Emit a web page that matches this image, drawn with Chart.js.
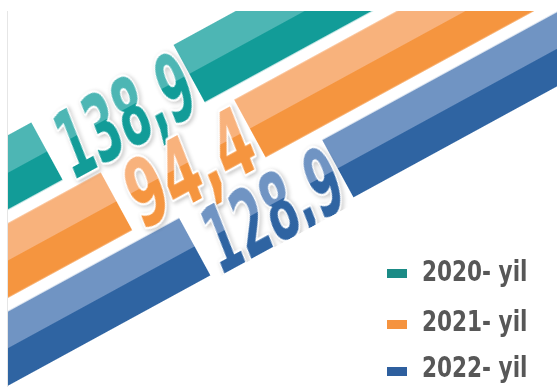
<!DOCTYPE html>
<html>
<head>
<meta charset="utf-8">
<script src="https://cdn.jsdelivr.net/npm/chart.js@4.4.1/dist/chart.umd.min.js"></script>
<style>
  html, body { margin: 0; padding: 0; background: #fff; }
  body { width: 557px; height: 387px; position: relative; overflow: hidden; }
  #frame {
    position: absolute; left: 7px; top: 11px; width: 550px; height: 376px;
    overflow: hidden; border-left: 1px solid #e6e6e6; box-sizing: border-box;
  }
  #tilt {
    position: absolute; left: -7px; top: -11px; width: 700px; height: 232px;
    transform-origin: 0 0;
    transform: rotate(-28.6deg) translate(-200px, 116px);
  }
  .key { position: absolute; left: 387px; width: 20px; height: 9px; }
  .keytext {
    position: absolute; left: 422px; line-height: 25px;
    font: bold 25px "DejaVu Sans Condensed", "DejaVu Sans", sans-serif;
    font-stretch: condensed; color: #575757; white-space: nowrap;
    transform-origin: 0 50%; transform: scale(0.96, 1.1);
  }
</style>
</head>
<body>
<div id="frame">
  <div id="tilt"><canvas id="bands" width="700" height="232"></canvas></div>
</div>
<div id="legend"></div>
<script>
const labels = ['2020- yil', '2021- yil', '2022- yil'];
const values = [138.9, 94.4, 128.9];
const lightColors = ['#4db6b4', '#f8b27c', '#7094c3'];
const darkColors = ['#129c98', '#f5953f', '#2f64a2'];
const legendColors = ['#1b8b86', '#f5933f', '#2e5f9e'];

// upper half light, lower half dark, split on each band's centre line
function bandFill(c) {
  const chart = c.chart;
  const i = c.dataIndex ?? 0;
  const area = chart.chartArea;
  if (!area || !chart.scales.y) return darkColors[i];
  const mid = chart.scales.y.getPixelForValue(i);
  const f = (mid - area.top) / (area.bottom - area.top);
  const g = chart.ctx.createLinearGradient(0, area.top, 0, area.bottom);
  g.addColorStop(0, lightColors[i]);
  g.addColorStop(f, lightColors[i]);
  g.addColorStop(f, darkColors[i]);
  g.addColorStop(1, darkColors[i]);
  return g;
}

const bandLabels = {
  id: 'bandLabels',
  afterDatasetsDraw(chart, args, opts) {
    const ctx = chart.ctx;
    const area = chart.chartArea;
    const bars = chart.getDatasetMeta(0).data;

    // cut the white gap out of each band first
    bars.forEach((bar, i) => {
      const [g0, g1] = opts.gaps[i];
      ctx.fillStyle = '#fff';
      ctx.fillRect(area.left + g0, bar.y - bar.height / 2 - 1, g1 - g0, bar.height + 2);
    });

    bars.forEach((bar, i) => {
      const [g0, g1] = opts.gaps[i];
      const text = values[i].toFixed(1).replace('.', ',');
      ctx.save();
      ctx.font = 'bold ' + opts.size + 'px "Liberation Sans Narrow", "DejaVu Sans Condensed", sans-serif';
      const w = ctx.measureText(text).width;
      const target = (g1 - g0) - opts.padLeft - opts.padRight;
      const cap = opts.size * 0.72;
      const cx = area.left + g0 + opts.padLeft + target / 2;
      ctx.translate(cx, bar.y + opts.shiftY);
      ctx.transform(1, 0, -opts.skew, 1, 0, 0);
      ctx.scale(target / w, 1);
      ctx.textAlign = 'center';
      ctx.textBaseline = 'alphabetic';

      const g = ctx.createLinearGradient(0, -cap / 2, 0, cap / 2);
      const f = 0.5 - opts.shiftY / cap;
      g.addColorStop(0, lightColors[i]);
      g.addColorStop(f, lightColors[i]);
      g.addColorStop(f, darkColors[i]);
      g.addColorStop(1, darkColors[i]);

      ctx.lineJoin = 'round';
      ctx.lineWidth = 5;
      ctx.strokeStyle = '#fff';
      ctx.shadowColor = 'rgba(0,0,0,0.25)';
      ctx.shadowBlur = 4;
      ctx.shadowOffsetX = 1;
      ctx.shadowOffsetY = 2;
      ctx.strokeText(text, 0, cap / 2);
      ctx.shadowColor = 'transparent';
      ctx.fillStyle = g;
      ctx.fillText(text, 0, cap / 2);
      ctx.restore();
    });
  }
};

new Chart(document.getElementById('bands'), {
  type: 'bar',
  data: {
    labels: labels,
    datasets: [{
      data: values,
      backgroundColor: bandFill,
      borderWidth: 0,
      categoryPercentage: 0.845,
      barPercentage: 1
    }]
  },
  options: {
    indexAxis: 'y',
    responsive: false,
    animation: false,
    layout: { padding: 0 },
    events: [],
    scales: {
      x: { display: false, min: 0, max: 90 },
      y: { display: false }
    },
    plugins: {
      legend: { display: false },
      tooltip: { enabled: false },
      bandLabels: {
        gaps: [[168, 330], [205, 357], [252, 415]],
        padLeft: 12,
        padRight: 3,
        size: 92,
        shiftY: 5,
        skew: 0.13
      }
    }
  },
  plugins: [bandLabels]
});

// legend in the upright frame
const legendTops = [257, 307, 353];
const keyTops = [269, 320, 367];
const legend = document.getElementById('legend');
labels.forEach((l, i) => {
  const key = document.createElement('div');
  key.className = 'key';
  key.style.top = keyTops[i] + 'px';
  key.style.background = legendColors[i];
  legend.appendChild(key);
  const t = document.createElement('div');
  t.className = 'keytext';
  t.style.top = legendTops[i] + 'px';
  t.textContent = l;
  legend.appendChild(t);
});
</script>
</body>
</html>
